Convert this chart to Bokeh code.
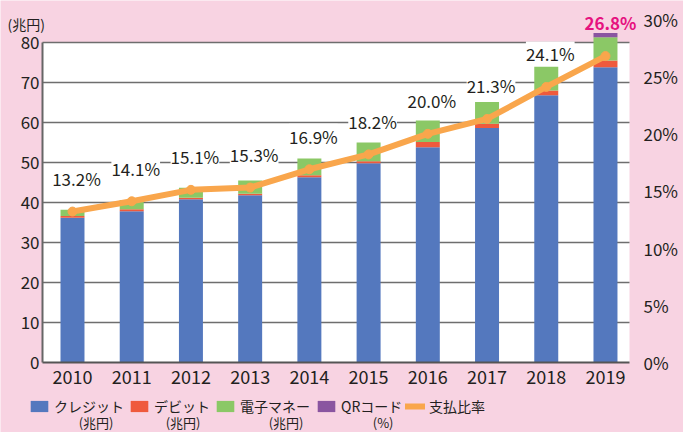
from bokeh.plotting import figure
from bokeh.models import (Range1d, LinearAxis, ColumnDataSource, LabelSet, Label,
                          Legend, LegendItem, BoxAnnotation, FixedTicker, PrintfTickFormatter)
from bokeh.embed import file_html
from bokeh.resources import INLINE
from bokeh.core.properties import value

# ---- data ----
years = ["2010", "2011", "2012", "2013", "2014", "2015", "2016", "2017", "2018", "2019"]
credit = [36.2, 37.8, 40.8, 41.8, 46.3, 49.8, 53.8, 58.6, 66.8, 73.8]   # 兆円
debit = [0.4, 0.5, 0.4, 0.4, 0.5, 0.5, 1.3, 1.1, 1.2, 1.7]              # 兆円
emoney = [1.6, 2.3, 2.5, 3.3, 4.2, 4.7, 5.4, 5.4, 6.0, 5.8]             # 兆円
qr = [0, 0, 0, 0, 0, 0, 0, 0, 0, 1.1]                                   # 兆円
ratio = [13.2, 14.1, 15.1, 15.3, 16.9, 18.2, 20.0, 21.3, 24.1, 26.8]    # %
left_ticks = [0, 10, 20, 30, 40, 50, 60, 70, 80]
right_ticks = [0, 5, 10, 15, 20, 25, 30]
unit_label = "(兆円)"
series_names = ["クレジット", "デビット", "電子マネー", "QRコード", "支払比率"]
series_units = ["(兆円)", "(兆円)", "(兆円)", "(%)"]

# ---- layout / styles ----
W, H = 683, 432
X_LO, X_HI = -1.2158, 10.3175        # visible x span (category index units)
AX_L, AX_R = -0.5066, 9.4056         # left / right edge of the plotting area
Y_LO, Y_HI = -17.5, 90.5             # 兆円 scale
P_LO, P_HI = -6.1225, 31.66          # % scale
PINK = "#F8D3E2"
TXT = "#231F20"
COLORS = ["#5478BE", "#EF5A3D", "#8BC866", "#8A55A0"]
ORANGE = "#F9A64C"
MAGENTA = "#E6127F"
GRID = "#6E6E6E"
FONT = "Noto Sans CJK JP"

xs = list(range(len(years)))
labels = [f"{r:.1f}%" for r in ratio]
src = ColumnDataSource(dict(x=xs, credit=credit, debit=debit, emoney=emoney, qr=qr,
                            ratio=ratio, label=labels))
src_main = ColumnDataSource(dict(x=xs[:-1], ratio=ratio[:-1], label=labels[:-1]))
src_last = ColumnDataSource(dict(x=xs[-1:], ratio=ratio[-1:], label=labels[-1:]))

p = figure(width=W, height=H, x_range=Range1d(X_LO, X_HI), y_range=Range1d(Y_LO, Y_HI),
           output_backend="svg", toolbar_location=None,
           min_border_left=0, min_border_right=0, min_border_top=0, min_border_bottom=0)
p.extra_y_ranges = {"pct": Range1d(P_LO, P_HI)}
p.background_fill_color = PINK
p.border_fill_color = PINK
p.outline_line_color = None

# white plotting area
p.add_layout(BoxAnnotation(left=AX_L, right=AX_R, bottom=0, top=80, fill_color="white",
                           fill_alpha=1, line_alpha=0, level="image"))

# horizontal grid lines (from the tick list), limited to the plotting area
p.xgrid.visible = False
p.ygrid.visible = False
gy = left_ticks[1:]
p.segment(x0=[AX_L] * len(gy), x1=[AX_R] * len(gy), y0=gy, y1=gy,
          line_color=GRID, line_width=1.5, level="underlay")

# left axis
ya = p.yaxis[0]
ya.fixed_location = AX_L
ya.ticker = FixedTicker(ticks=left_ticks)
ya.bounds = (0, 80)
ya.axis_line_color = "#666666"
ya.axis_line_width = 2
ya.major_tick_line_color = None
ya.minor_tick_line_color = None
ya.major_tick_out = 0
ya.major_tick_in = 0
ya.major_label_text_font = FONT
ya.major_label_text_font_size = "17px"
ya.major_label_text_color = TXT
ya.major_label_standoff = 3

# right axis
ra = LinearAxis(y_range_name="pct", ticker=FixedTicker(ticks=right_ticks),
                formatter=PrintfTickFormatter(format="%d%%"), fixed_location=AX_R)
ra.bounds = (0, 30)
ra.axis_line_color = None
ra.major_tick_line_color = None
ra.minor_tick_line_color = None
ra.major_tick_out = 0
ra.major_tick_in = 0
ra.major_label_text_font = FONT
ra.major_label_text_font_size = "17px"
ra.major_label_text_color = TXT
ra.major_label_standoff = 14
p.add_layout(ra, "right")

# x axis
xa = p.xaxis[0]
xa.fixed_location = 0
xa.bounds = (AX_L, AX_R)
xa.ticker = FixedTicker(ticks=xs)
xa.major_label_overrides = {i: y for i, y in zip(xs, years)}
xa.axis_line_color = "#555555"
xa.axis_line_width = 2
xa.major_tick_line_color = None
xa.minor_tick_line_color = None
xa.major_tick_out = 0
xa.major_tick_in = 0
xa.major_label_text_font = FONT
xa.major_label_text_font_size = "18px"
xa.major_label_text_color = TXT
xa.major_label_standoff = 7

# bars
bars = p.vbar_stack(["credit", "debit", "emoney", "qr"], x="x", width=0.405,
                    color=COLORS, line_color=None, source=src)

# ratio line
ln = p.line("x", "ratio", source=src, y_range_name="pct", line_color=ORANGE,
            line_width=6, line_cap="round", line_join="round")
p.scatter("x", "ratio", source=src, y_range_name="pct", size=9, color=ORANGE)

# percentage labels
p.add_layout(LabelSet(x="x", y="ratio", text="label", source=src_main, y_range_name="pct",
                      x_offset=4, y_offset=33, text_align="center", text_baseline="middle",
                      text_font=value(FONT), text_font_size="17px", text_color=TXT,
                      background_fill_color="white", background_fill_alpha=1))
p.add_layout(LabelSet(x="x", y="ratio", text="label", source=src_last, y_range_name="pct",
                      x_offset=5, y_offset=34, text_align="center", text_baseline="middle",
                      text_font=value(FONT), text_font_size="17px", text_color=MAGENTA,
                      text_font_style="bold"))

# unit label at top-left
p.add_layout(Label(x=7, y=409, x_units="screen", y_units="screen", text=unit_label,
                   text_font=FONT, text_font_size="14px", text_color=TXT,
                   text_align="left", text_baseline="middle"))

# legends (one per item for exact placement)
leg_x = [28, 128, 214, 315, 405]
renderers = list(bars) + [ln]
for i, (name, r) in enumerate(zip(series_names, renderers)):
    lg = Legend(items=[LegendItem(label=name, renderers=[r])], location=(leg_x[i], 16),
                orientation="horizontal", border_line_alpha=0, background_fill_alpha=0,
                padding=0, margin=0, glyph_width=(20 if i == 4 else 22), glyph_height=14,
                label_standoff=4, label_height=12, label_text_font=FONT,
                label_text_font_size="14px", label_text_color=TXT)
    p.add_layout(lg)

unit_x = [113, 200, 303, 393]
for ux, u in zip(unit_x, series_units):
    p.add_layout(Label(x=ux, y=10, x_units="screen", y_units="screen", text=u,
                       text_font=FONT, text_font_size="13px", text_color=TXT,
                       text_align="right", text_baseline="middle"))

open("out.html", "w").write(file_html(p, INLINE))
